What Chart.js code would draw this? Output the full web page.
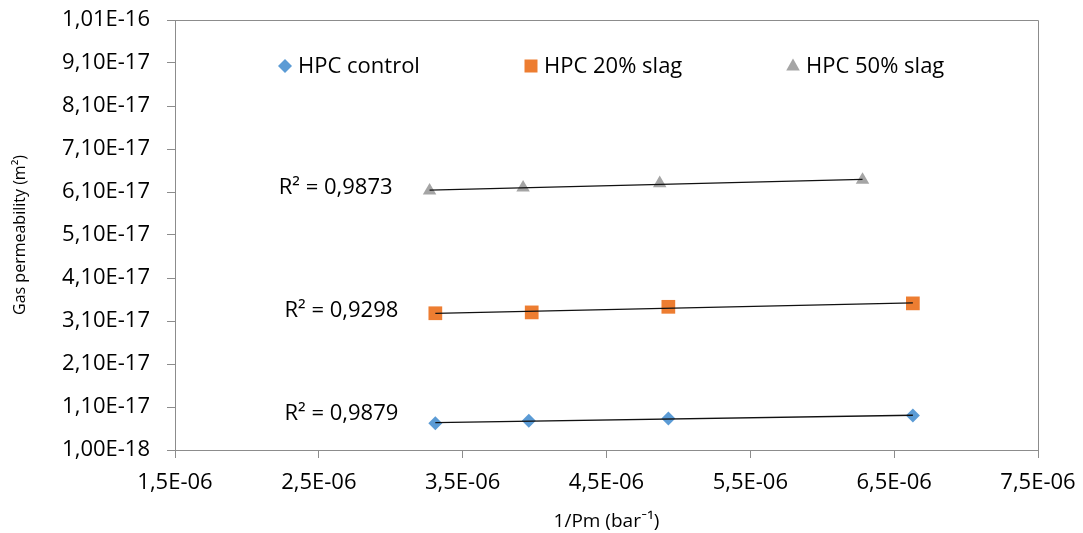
<!DOCTYPE html>
<html>
<head>
<meta charset="utf-8">
<script src="https://cdn.jsdelivr.net/npm/chart.js@4/dist/chart.umd.min.js"></script>
<style>
  html, body { margin: 0; padding: 0; background: #fff; }
  #wrap { width: 1083px; height: 533px; }
</style>
</head>
<body>
<div id="wrap"><canvas id="chart" width="1083" height="533"></canvas></div>
<script>
// series
const seriesNames = ["HPC control", "HPC 20% slag", "HPC 50% slag"];
const controlX = [3.31e-6, 3.96e-6, 4.93e-6, 6.63e-6];
const controlY = [7.2e-18, 7.8e-18, 8.3e-18, 9.0e-18];
const slag20X = [3.31e-6, 3.98e-6, 4.93e-6, 6.63e-6];
const slag20Y = [3.28e-17, 3.30e-17, 3.43e-17, 3.51e-17];
const slag50X = [3.27e-6, 3.92e-6, 4.87e-6, 6.28e-6];
const slag50Y = [6.13e-17, 6.20e-17, 6.30e-17, 6.38e-17];
const r2Labels = ["R² = 0,9879", "R² = 0,9298", "R² = 0,9873"];

// axes
const xTicks = [1.5e-6, 2.5e-6, 3.5e-6, 4.5e-6, 5.5e-6, 6.5e-6, 7.5e-6];
const xTickLabels = ["1,5E-06", "2,5E-06", "3,5E-06", "4,5E-06", "5,5E-06", "6,5E-06", "7,5E-06"];
const yTicks = [1e-18, 1.1e-17, 2.1e-17, 3.1e-17, 4.1e-17, 5.1e-17, 6.1e-17, 7.1e-17, 8.1e-17, 9.1e-17, 1.01e-16];
const yTickLabels = ["1,00E-18", "1,10E-17", "2,10E-17", "3,10E-17", "4,10E-17", "5,10E-17",
                     "6,10E-17", "7,10E-17", "8,10E-17", "9,10E-17", "1,01E-16"];

const FONT = "'Open Sans', Lato, sans-serif";
const AXIS = "#8c8c8c";
const colors = ["#5b9bd5", "#ed7d31", "#a5a5a5"];
const styles = ["rectRot", "rect", "triangle"];
const radii = [7, 9.7, 7.8];

const xs = [controlX, slag20X, slag50X];
const ys = [controlY, slag20Y, slag50Y];

// linear least squares, for the trend lines
function fit(px, py) {
    const n = px.length;
    const mx = px.reduce((a, b) => a + b, 0) / n;
    const my = py.reduce((a, b) => a + b, 0) / n;
    let sxy = 0, sxx = 0;
    for (let i = 0; i < n; i++) {
        sxy += (px[i] - mx) * (py[i] - my);
        sxx += (px[i] - mx) * (px[i] - mx);
    }
    const slope = sxy / sxx;
    return x => my + slope * (x - mx);
}

const datasets = [];
xs.forEach((sx, i) => {
    datasets.push({
        label: seriesNames[i],
        data: sx.map((v, j) => ({ x: v, y: ys[i][j] })),
        pointStyle: styles[i],
        pointRadius: radii[i],
        pointBackgroundColor: colors[i],
        pointBorderColor: colors[i],
        pointBorderWidth: 0,
        showLine: false,
        order: 2
    });
});
xs.forEach((sx, i) => {
    const f = fit(sx, ys[i]);
    const lo = Math.min(...sx), hi = Math.max(...sx);
    datasets.push({
        label: "trend " + i,
        data: [{ x: lo, y: f(lo) }, { x: hi, y: f(hi) }],
        showLine: true,
        borderColor: "#111",
        borderWidth: 1.3,
        pointRadius: 0,
        order: 1
    });
});

const decor = {
    id: "decor",
    afterDraw(chart) {
        const { ctx, chartArea: a, scales: { x, y } } = chart;
        ctx.save();

        // top and right frame
        ctx.strokeStyle = AXIS;
        ctx.lineWidth = 1;
        ctx.beginPath();
        ctx.moveTo(Math.round(a.left) + 0.5, Math.round(a.top) + 0.5);
        ctx.lineTo(Math.round(a.right) + 0.5, Math.round(a.top) + 0.5);
        ctx.lineTo(Math.round(a.right) + 0.5, Math.round(a.bottom) + 0.5);
        ctx.stroke();

        // R² labels, left of each trend line
        const dy = [-10, -2.5, -2.5];
        ctx.fillStyle = "#000";
        ctx.font = "22px " + FONT;
        ctx.textAlign = "right";
        ctx.textBaseline = "middle";
        xs.forEach((sx, i) => {
            const px = x.getPixelForValue(sx[0]) - 37;
            const py = y.getPixelForValue(ys[i][0]) + dy[i];
            ctx.fillText(r2Labels[i], px, py);
        });

        // legend inside the plot
        const lx = [285, 531, 793];
        const ly = 66;
        ctx.font = "22px " + FONT;
        ctx.textAlign = "left";
        seriesNames.forEach((name, i) => {
            ctx.fillStyle = colors[i];
            ctx.beginPath();
            const cx = lx[i];
            if (i === 0) {
                ctx.moveTo(cx, ly - 7); ctx.lineTo(cx + 7, ly);
                ctx.lineTo(cx, ly + 7); ctx.lineTo(cx - 7, ly);
            } else if (i === 1) {
                ctx.rect(cx - 6.5, ly - 6.5, 13, 13);
            } else {
                ctx.moveTo(cx, ly - 7.5); ctx.lineTo(cx + 6.8, ly + 4.5);
                ctx.lineTo(cx - 6.8, ly + 4.5);
            }
            ctx.closePath();
            ctx.fill();
            ctx.fillStyle = "#000";
            ctx.fillText(name, cx + 13, ly + 1);
        });
        ctx.restore();
    }
};

new Chart(document.getElementById("chart"), {
    type: "scatter",
    data: { datasets },
    options: {
        responsive: false,
        animation: false,
        layout: { padding: { top: 20, right: 45, bottom: 0, left: 0 } },
        plugins: { legend: { display: false }, tooltip: { enabled: false } },
        scales: {
            x: {
                type: "linear",
                min: 1.5e-6,
                max: 7.5e-6,
                afterBuildTicks: s => { s.ticks = xTicks.map(v => ({ value: v })); },
                afterFit: s => { s.height = 83; s.paddingLeft = 0; s.paddingRight = 0; },
                ticks: {
                    callback: (v, i) => xTickLabels[i],
                    font: { family: FONT, size: 22 },
                    color: "#000",
                    padding: 12,
                    maxRotation: 0
                },
                grid: { drawOnChartArea: false, color: AXIS, tickLength: 8 },
                border: { color: AXIS, width: 1 },
                title: {
                    display: true,
                    text: "1/Pm (bar⁻¹)",
                    font: { family: FONT, size: 19 },
                    color: "#000",
                    padding: { top: 0, bottom: 0 }
                }
            },
            y: {
                type: "linear",
                min: 1e-18,
                max: 1.01e-16,
                afterBuildTicks: s => { s.ticks = yTicks.map(v => ({ value: v })); },
                afterFit: s => { s.width = 175; s.paddingTop = 0; s.paddingBottom = 0; },
                ticks: {
                    callback: (v, i) => yTickLabels[i],
                    font: { family: FONT, size: 22 },
                    color: "#000",
                    padding: 17
                },
                grid: { drawOnChartArea: false, color: AXIS, tickLength: 8 },
                border: { color: AXIS, width: 1 },
                title: {
                    display: true,
                    text: "Gas permeability (m²)",
                    font: { family: FONT, size: 16 },
                    color: "#000",
                    padding: { top: 11, bottom: 0 }
                }
            }
        }
    },
    plugins: [decor]
});
</script>
</body>
</html>
